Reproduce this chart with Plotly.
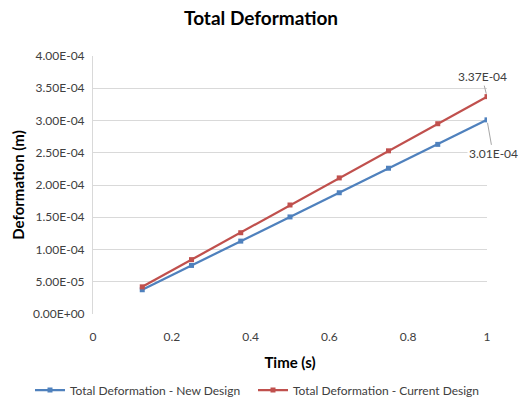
import plotly.graph_objects as go

time_s = [0.125, 0.25, 0.375, 0.5, 0.625, 0.75, 0.875, 1.0]
new_design = [3.76e-5, 7.53e-5, 1.13e-4, 1.505e-4, 1.88e-4, 2.26e-4, 2.63e-4, 3.01e-4]
current_design = [4.21e-5, 8.43e-5, 1.26e-4, 1.69e-4, 2.11e-4, 2.53e-4, 2.95e-4, 3.37e-4]
y_ticks = [0, 5e-5, 1e-4, 1.5e-4, 2e-4, 2.5e-4, 3e-4, 3.5e-4, 4e-4]
y_tick_labels = ["0.00E+00", "5.00E-05", "1.00E-04", "1.50E-04", "2.00E-04",
                 "2.50E-04", "3.00E-04", "3.50E-04", "4.00E-04"]
x_ticks = [0, 0.2, 0.4, 0.6, 0.8, 1]
x_tick_labels = ["0", "0.2", "0.4", "0.6", "0.8", "1"]

BLUE = "#4F81BD"
RED = "#C0504D"
FONT = "Lato"
W, H = 519, 403

fig = go.Figure()
fig.add_trace(go.Scatter(
    x=time_s, y=new_design, mode="lines+markers",
    name="Total Deformation - New Design", legend="legend",
    line=dict(color=BLUE, width=2.25),
    marker=dict(symbol="square", size=5, color=BLUE),
))
fig.add_trace(go.Scatter(
    x=time_s, y=current_design, mode="lines+markers",
    name="Total Deformation - Current Design", legend="legend2",
    line=dict(color=RED, width=2.25),
    marker=dict(symbol="square", size=5, color=RED),
))

fig.add_annotation(x=time_s[-1], y=current_design[-1], xref="x", yref="y",
                   text="3.37E-04", showarrow=True, arrowhead=0, arrowwidth=1,
                   arrowcolor="#A6A6A6", ax=-5, ay=-20, standoff=3,
                   bgcolor="white", font=dict(family=FONT, size=12, color="#404040"))
fig.add_annotation(x=time_s[-1], y=new_design[-1], xref="x", yref="y",
                   text="3.01E-04", showarrow=True, arrowhead=0, arrowwidth=1,
                   arrowcolor="#A6A6A6", ax=6, ay=34, standoff=3,
                   bgcolor="white", font=dict(family=FONT, size=12, color="#404040"))

legend_common = dict(orientation="h", xref="container", yref="container",
                     xanchor="left", y=1 - 390 / H, yanchor="middle",
                     font=dict(family=FONT, size=12, color="#404040"),
                     itemwidth=30, bgcolor="rgba(0,0,0,0)")

fig.update_layout(
    width=W, height=H,
    margin=dict(l=93, r=32, t=56, b=89),
    paper_bgcolor="white", plot_bgcolor="white",
    font=dict(family=FONT, size=12, color="#404040"),
    title=dict(text="<b>Total Deformation</b>", x=0.503, xanchor="center",
               y=1 - 18 / H, yanchor="middle",
               font=dict(family=FONT, size=19, color="black")),
    showlegend=True,
    legend=dict(x=30 / W, **legend_common),
    legend2=dict(x=253 / W, **legend_common),
    xaxis=dict(range=[0, 1], tickvals=x_ticks, ticktext=x_tick_labels,
               showgrid=False, zeroline=False, showline=False, ticks="",
               automargin=False, ticklabelstandoff=14,
               title=dict(text="<b>Time (s)</b>", standoff=14,
                          font=dict(family=FONT, size=15, color="black"))),
    yaxis=dict(range=[0, 4e-4], tickvals=y_ticks, ticktext=y_tick_labels,
               showgrid=True, gridcolor="#D9D9D9", gridwidth=1,
               zeroline=False, showline=True, linecolor="#D9D9D9", ticks="",
               automargin=False, ticklabelstandoff=5,
               title=dict(text="<b>Deformation (m)</b>", standoff=4,
                          font=dict(family=FONT, size=15, color="black"))),
)

fig.write_html("out.html", config={"displayModeBar": False},
               post_script="document.body.style.margin='0';")
